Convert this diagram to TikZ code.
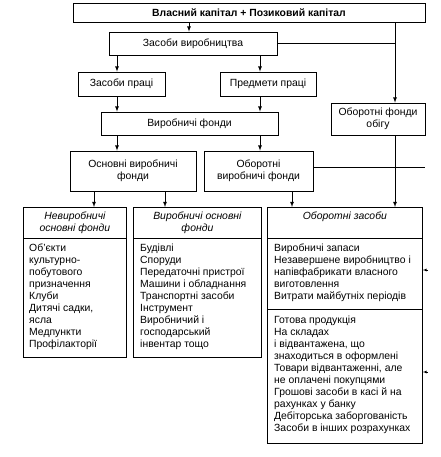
\documentclass[tikz,border=0pt]{standalone}
\usepackage{fontspec}
\setmainfont{Liberation Sans}
\usepackage{tikz}
\usetikzlibrary{arrows}
\newcommand{\shryft}{\fontsize{10.4}{12}\selectfont}

\begin{document}
\begin{tikzpicture}[x=1pt,y=-1pt,>=latex,
		blok/.style={draw, line width=0.8pt, inner sep=1pt, align=center, font=\shryft},
		ramka/.style={draw, line width=0.8pt, anchor=north west, inner sep=0pt},
		tekst/.style={anchor=north west, align=left, inner sep=0pt, font=\shryft},
		zag/.style={anchor=north, align=center, inner sep=0pt, font=\shryft\itshape},
		strilka/.style={->, line width=0.8pt}]
			\useasboundingbox (0,0) rectangle (440,457);
			%\draw [help lines, step=10] (0,0) grid (440,457);
			% columns of the connectors
			\coordinate (kv) at (189,0);
			\coordinate (l1) at (117,0);
			\coordinate (l2) at (260,0);
			\coordinate (ob) at (395,0);
			\coordinate (n1) at (94,0);
			\coordinate (n2) at (165,0);
			\coordinate (n3) at (292,0);
			\coordinate (kray) at (425,0);
			\coordinate (s1) at (428,270);
			\coordinate (s2) at (428,372);
			% upper boxes
			\node [blok, minimum width=352, minimum height=19, font=\shryft\bfseries] (kapital) at (249,12.5) {Власний капітал + Позиковий капітал};
			\node [blok, minimum width=168, minimum height=23] (zasvyr) at (193,43.5) {Засоби виробництва};
			\node [blok, minimum width=87, minimum height=24] (zaspr) at (121.5,84) {Засоби праці};
			\node [blok, minimum width=96, minimum height=24] (predm) at (268,84) {Предмети праці};
			\node [blok, minimum width=177, minimum height=23] (vyrf) at (189.5,123.5) {Виробничі фонди};
			\node [blok, minimum width=94, minimum height=32] (obig) at (378,119) {Оборотні фонди\\обігу};
			\node [blok, minimum width=126, minimum height=40] (osnvyr) at (133,171) {Основні виробничі\\фонди};
			\node [blok, minimum width=109, minimum height=40] (obvyr) at (258.5,171) {Оборотні\\виробничі фонди};
			% lower boxes
			\node [ramka, minimum width=103, minimum height=31] (nevyrh) at (23,207) {};
			\node [ramka, minimum width=103, minimum height=119] (nevyrb) at (23,238) {};
			\node [ramka, minimum width=128, minimum height=31] (vyrosnh) at (133,207) {};
			\node [ramka, minimum width=128, minimum height=119] (vyrosnb) at (133,238) {};
			\node [ramka, minimum width=155, minimum height=31] (obzash) at (267,207) {};
			\node [ramka, minimum width=155, minimum height=71] (obzas1) at (267,238) {};
			\node [ramka, minimum width=155, minimum height=134] (obzas2) at (267,309) {};
			\node [zag] at ([yshift=-5]nevyrh.north) {Невиробничі\\основні фонди};
			\node [zag] at ([yshift=-5]vyrosnh.north) {Виробничі основні\\фонди};
			\node [zag] at ([yshift=-5]obzash.north) {Оборотні засоби};
			\node [tekst] at ([xshift=6,yshift=-6]nevyrb.north west) {Об’єкти\\культурно-\\побутового\\призначення\\Клуби\\Дитячі садки,\\ясла\\Медпункти\\Профілакторії};
			\node [tekst] at ([xshift=7,yshift=-6]vyrosnb.north west) {Будівлі\\Споруди\\Передаточні пристрої\\Машини і обладнання\\Транспортні засоби\\Інструмент\\Виробничий і\\господарський\\інвентар тощо};
			\node [tekst] at ([xshift=7,yshift=-6]obzas1.north west) {Виробничі запаси\\Незавершене виробництво і\\напівфабрикати власного\\виготовлення\\Витрати майбутніх періодів};
			\node [tekst] at ([xshift=7,yshift=-7]obzas2.north west) {Готова продукція\\На складах\\і відвантажена, що\\знаходиться в оформлені\\Товари відвантаженні, але\\не оплачені покупцями\\Грошові засоби в касі й на\\рахунках у банку\\Дебіторська заборгованість\\Засоби в інших розрахунках};
			% connectors
			\draw [strilka] (kapital.south -| kv) -- (zasvyr.north -| kv);
			\draw [strilka] (kapital.south -| ob) -- (obig.north -| ob);
			\draw [line width=0.8pt] (zasvyr.east) -- (zasvyr.east -| ob);
			\foreach \k/\n in {l1/zaspr, l2/predm} {
				\draw [strilka] (zasvyr.south -| \k) -- (\n.north -| \k);
				\draw [strilka] (\n.south -| \k) -- (vyrf.north -| \k);
			}
			\draw [strilka] (vyrf.south -| l1) -- (osnvyr.north -| l1);
			\draw [strilka] (vyrf.south -| l2) -- (obvyr.north -| l2);
			\draw [line width=0.8pt] ([yshift=4]obvyr.east) -- ([yshift=4]obvyr.east -| kray);
			\draw [strilka] (osnvyr.south -| n1) -- (nevyrh.north -| n1);
			\draw [strilka] (osnvyr.south -| n2) -- (vyrosnh.north -| n2);
			\draw [strilka] (obvyr.south -| n3) -- (obzash.north -| n3);
			\draw [strilka] (obig.south -| ob) -- (obzash.north -| ob);
			\draw [->, line width=0.3pt] (s1) -- (obzas1.east |- s1);
			\draw [->, line width=0.3pt] (s2) -- (obzas2.east |- s2);
\end{tikzpicture}
\end{document}
